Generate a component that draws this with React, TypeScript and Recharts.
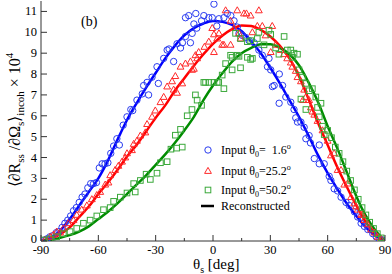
import * as React from "react";
import {
  ComposedChart,
  Line,
  Scatter,
  XAxis,
  YAxis,
  Legend,
} from "recharts";

// reconstructed curves, sampled every 5 deg
const THETA_CURVE = [
  -90, -85, -80, -75, -70, -65, -60, -55, -50, -45, -40, -35, -30, -25, -20, -15, -10, -5, 0,
  5, 10, 15, 20, 25, 30, 35, 40, 45, 50, 55, 60, 65, 70, 75, 80, 85, 90,
];
const BLUE_CURVE = [
  0, 0.15, 0.5, 1.05, 1.7, 2.35, 3.0, 3.85, 4.85, 5.8, 6.6, 7.35, 8.05, 8.75, 9.35, 9.85, 10.2, 10.42, 10.54,
  10.5, 10.35, 10.05, 9.55, 9.0, 8.3, 7.55, 6.75, 5.95, 5.05, 4.1, 3.25, 2.5, 1.8, 1.2, 0.65, 0.25, 0,
];
const RED_CURVE = [
  0, 0.12, 0.32, 0.65, 1.15, 1.65, 2.25, 2.8, 3.4, 4.05, 4.6, 5.25, 5.9, 6.5, 7.2, 7.8, 8.4, 8.95, 9.45,
  9.85, 10.15, 10.33, 10.3, 10.12, 9.8, 9.35, 8.75, 7.9, 6.8, 5.65, 4.6, 3.55, 2.6, 1.7, 0.9, 0.35, 0,
];
const GREEN_CURVE = [
  0, 0.05, 0.15, 0.28, 0.45, 0.7, 1.05, 1.4, 1.8, 2.25, 2.7, 3.15, 3.65, 4.15, 4.7, 5.3, 5.95, 6.75, 7.45,
  8.05, 8.6, 9.0, 9.25, 9.43, 9.43, 9.25, 8.95, 8.42, 7.6, 6.65, 5.5, 4.45, 3.3, 2.15, 1.2, 0.5, 0,
];

// input data points [theta, value]
const BLUE_POINTS = [
  [-88, 0.05], [-87, 0.1], [-85.4, 0.2], [-84, 0.25], [-82, 0.4], [-80.5, 0.45], [-79, 0.65], [-77.5, 0.85],
  [-76, 1.0], [-74.5, 1.2], [-73, 1.45], [-71.5, 1.6], [-70, 1.85], [-68.5, 2.1], [-67, 2.25], [-65.5, 2.55],
  [-64, 2.75], [-62.5, 2.75], [-61, 2.8], [-59.5, 3.5], [-58, 3.7], [-56.5, 3.7], [-55, 3.75], [-53.5, 4.2],
  [-52, 4.55], [-50.3, 4.9], [-49, 4.6], [-47, 5.55], [-45, 5.95], [-43, 6.3], [-42, 6.25], [-39.8, 6.75],
  [-37, 7.05], [-36.3, 7.45], [-34.5, 7.6], [-33.7, 7.0], [-31.9, 7.85], [-29.3, 8.35], [-28.6, 7.55],
  [-25.8, 8.75], [-24, 9.15], [-23, 9.2], [-20.6, 8.6], [-18.8, 9.45], [-17, 9.25], [-16, 9.5], [-14.4, 9.8],
  [-14.4, 10.7], [-12.7, 10.8], [-11.8, 9.5], [-10.9, 9.95], [-10, 10.4], [-9, 10.9], [-8.5, 10.2], [-6, 10.55],
  [-4.8, 10.8], [-2.2, 10.7], [-0.4, 10.7], [0.5, 11.35], [2, 10.3], [3.1, 10.65], [5.7, 10.7], [7.5, 10.9],
  [9.3, 10.8], [11, 10.55], [12.7, 10.25], [13.6, 9.95], [15.4, 9.85], [17.1, 9.75], [18.9, 9.6], [21.5, 9.5],
  [24, 9.15], [25.8, 8.9], [28.5, 8.35], [29.3, 8.75], [30.2, 8.2], [31.1, 7.4], [32, 7.45], [34.6, 6.6],
  [34.7, 8.0], [36.4, 7.45], [38.1, 6.9], [40.7, 6.65], [42.4, 6.3], [43.3, 5.9], [44.2, 5.7], [46, 5.7],
  [47.7, 5.45], [48.6, 4.9], [50.3, 5.05], [51, 4.7], [53, 3.95], [55.6, 4.6], [55.6, 3.7], [58.2, 3.7],
  [60.8, 3.1], [61.7, 2.9], [63.4, 2.5], [65.2, 2.4], [67, 2.1], [69.6, 1.85], [71.3, 1.7], [74, 1.4],
  [75.7, 1.15], [77.5, 0.85], [79.2, 0.7], [81, 0.55], [83.6, 0.35], [85.4, 0.2], [87, 0.1], [88.5, 0.05],
];
const RED_POINTS = [
  [-88, 0.05], [-85.3, 0.2], [-83.5, 0.3], [-81.8, 0.45], [-80, 0.4], [-78.3, 0.6], [-75.7, 0.85], [-73, 1.0],
  [-71.3, 1.25], [-68.7, 1.5], [-66, 1.7], [-63.4, 2.0], [-60.8, 2.2], [-59, 2.35], [-56.4, 2.7], [-54.7, 2.8],
  [-53.8, 3.15], [-51.2, 3.4], [-49.5, 3.6], [-47.6, 3.8], [-45.9, 4.0], [-45, 4.2], [-42.4, 4.35], [-41.5, 4.65],
  [-39.8, 4.8], [-38, 5.05], [-35.4, 5.2], [-34.5, 5.6], [-31.9, 5.95], [-30.2, 6.25], [-27.5, 6.65],
  [-25.8, 6.9], [-24, 7.4], [-21.4, 7.65], [-20.6, 7.25], [-18.8, 7.1], [-19.7, 7.9], [-17, 8.35], [-16.1, 7.55],
  [-14.4, 8.5], [-11.8, 8.6], [-10.9, 8.2], [-10, 8.25], [-9.2, 8.9], [-8.3, 8.75], [-7.5, 9.05], [-4.5, 9.3],
  [-2.2, 9.55], [-0.4, 10.2], [0.5, 9.05], [0.5, 9.9], [2.2, 9.7], [3.1, 9.95], [4.8, 9.4], [5.7, 9.4],
  [6.6, 11.05], [9.2, 10.55], [9.2, 9.4], [11, 10.2], [12.7, 11.05], [13.6, 9.95], [14.4, 9.7], [16.2, 10.9],
  [17.5, 10.9], [19.7, 10.8], [20.6, 10.0], [23.2, 10.3], [24, 11.05], [25.8, 10.3], [27.5, 9.85], [30.2, 9.05],
  [31, 10.3], [32.8, 9.4], [35.4, 9.15], [37.1, 8.95], [38.8, 8.75], [40.7, 8.55], [41.5, 8.35], [43.3, 8.15],
  [44.2, 7.85], [46, 7.65], [47, 6.75], [47.7, 7.25], [48.6, 6.9], [50.3, 6.75], [51.2, 6.4], [52, 6.2],
  [53, 6.05], [54.7, 5.75], [57.3, 5.3], [60, 4.8], [61.7, 4.1], [63.4, 4.2], [65.2, 3.4], [67, 3.4],
  [68.7, 2.7], [70.4, 2.75], [72.2, 2.1], [73.9, 1.8], [74.8, 1.65], [75.7, 1.5], [77.5, 1.25], [78.3, 1.25],
  [79.2, 1.0], [81, 0.8], [82.7, 0.55], [84.5, 0.4], [86.2, 0.2], [87.9, 0.1],
];
const GREEN_POINTS = [
  [-88.8, 0.05], [-85.3, 0.1], [-81.8, 0.2], [-78.3, 0.35], [-74.8, 0.45], [-71.3, 0.6], [-67.8, 0.85],
  [-64.3, 1.0], [-60.8, 1.2], [-57.3, 1.5], [-53.8, 1.6], [-52, 1.9], [-48.5, 2.1], [-45, 2.3], [-41.5, 2.75],
  [-40.7, 2.35], [-38, 2.9], [-35, 3.2], [-32.8, 2.95], [-29.3, 3.25], [-27.5, 3.75], [-24, 3.8], [-22, 4.4],
  [-19.7, 5.07], [-19, 4.45], [-17, 5.35], [-16.1, 4.5], [-13.5, 6.0], [-11, 6.3], [-9.2, 7.0], [-8.3, 6.75],
  [-6, 6.5], [-4.8, 7.6], [-3.9, 7.6], [-2.2, 7.6], [0.5, 7.6], [2.2, 7.6], [3, 7.6], [4.8, 7.95], [5.7, 7.3],
  [6.6, 8.5], [9.2, 8.9], [10, 8.2], [10, 8.8], [11.8, 9.95], [12.7, 8.9], [13.6, 8.85], [14.4, 8.3],
  [14.4, 9.7], [18, 9.55], [18, 8.8], [19.7, 9.6], [19.7, 8.7], [20.6, 8.75], [23.2, 9.7], [24, 10.0],
  [26.7, 9.4], [29.3, 10.1], [30.2, 9.9], [32.8, 9.25], [34.5, 8.95], [37.2, 9.8], [38.9, 9.15], [40.7, 9.15],
  [41.6, 8.8], [42.4, 9.0], [44.2, 8.95], [45, 8.2], [46, 6.8], [46.8, 7.85], [48.6, 7.55], [48.6, 6.3],
  [50.3, 7.2], [52, 7.3], [53.8, 6.9], [54.7, 6.4], [55.6, 5.95], [56.5, 6.6], [57.3, 5.5], [58.2, 5.1],
  [60, 5.3], [62, 4.95], [64, 4.5], [66, 4.2], [68, 3.8], [70, 3.35], [72, 2.9], [74, 2.45], [76, 2.0],
  [78, 1.6], [80, 1.25], [82, 0.9], [84, 0.6], [86, 0.35], [88, 0.15],
];

const X_TICKS = [-90, -75, -60, -45, -30, -15, 0, 15, 30, 45, 60, 75, 90];
const Y_TICKS = [0, 1, 2, 3, 4, 5, 6, 7, 8, 9, 10, 11];
const LEGEND_LABELS = ["1.6", "25.2", "50.2"];

const FONT = '"Liberation Serif", "Times New Roman", serif';
const AXIS_COLOR = "#333";
const BLUE = "#0000ff";
const RED = "#ff0000";
const GREEN = "#008c00";
const BLUE_MARK = "#2a3cf0";
const RED_MARK = "#ff2a2a";
const GREEN_MARK = "#3aa83a";

const curve = (vals: number[]) => THETA_CURVE.map((t, i) => ({ t, v: vals[i] }));
const points = (pts: number[][]) => pts.map(([t, v]) => ({ t, v }));

const Circle = (props: any) => (
  <circle cx={props.cx} cy={props.cy} r={3.2} fill="none" stroke={BLUE_MARK} strokeWidth={1} />
);
const Triangle = (props: any) => {
  const { cx, cy } = props;
  return (
    <polygon
      points={`${cx},${cy - 3.6} ${cx - 3.4},${cy + 2.4} ${cx + 3.4},${cy + 2.4}`}
      fill="none"
      stroke={RED_MARK}
      strokeWidth={1}
    />
  );
};
const Square = (props: any) => (
  <rect x={props.cx - 2.8} y={props.cy - 2.8} width={5.6} height={5.6} fill="none" stroke={GREEN_MARK} strokeWidth={1} />
);

const BottomTick = ({ x, y, payload }: any) => {
  const major = payload.value % 30 === 0;
  return (
    <g>
      <line x1={x} x2={x} y1={y} y2={y - (major ? 6 : 3)} stroke={AXIS_COLOR} />
      {major && (
        <text x={x} y={y + 12.5} textAnchor="middle" fontSize={12.5} fontFamily={FONT} fill="#000">
          {payload.value}
        </text>
      )}
    </g>
  );
};
const TopTick = ({ x, y, payload }: any) => {
  const major = payload.value % 30 === 0;
  return <line x1={x} x2={x} y1={y} y2={y + (major ? 6 : 4)} stroke={AXIS_COLOR} />;
};
const LeftTick = ({ x, y, payload }: any) => (
  <g>
    <line x1={x} x2={x + 6} y1={y} y2={y} stroke={AXIS_COLOR} />
    <text x={x - 4} y={y + (payload.value === 0 ? 2 : 4)} textAnchor="end" fontSize={12.5} fontFamily={FONT} fill="#000">
      {payload.value}
    </text>
  </g>
);
const RightTick = ({ x, y }: any) => <line x1={x} x2={x - 6} y1={y} y2={y} stroke={AXIS_COLOR} />;

const YLabel = () => (
  <text
    x={20}
    y={120}
    transform="rotate(-90, 20, 120)"
    textAnchor="middle"
    fontSize={16}
    fontFamily={FONT}
    fill="#000"
  >
    ⟨∂R<tspan fontSize={11} dy={4}>ss</tspan>
    <tspan dy={-4}> /∂Ω</tspan>
    <tspan fontSize={11} dy={4}>s</tspan>
    <tspan dy={-4}>⟩</tspan>
    <tspan fontSize={11} dy={4}>incoh</tspan>
    <tspan dy={-4}> × 10</tspan>
    <tspan fontSize={11} dy={-7}>4</tspan>
  </text>
);

const LegendBox = () => {
  const marks = [
    <circle key="c" cx={8} cy={7} r={3.2} fill="none" stroke={BLUE_MARK} />,
    <polygon key="t" points="8,3.4 4.6,9.4 11.4,9.4" fill="none" stroke={RED_MARK} />,
    <rect key="s" x={5.2} y={4.2} width={5.6} height={5.6} fill="none" stroke={GREEN_MARK} />,
  ];
  const rowTop = [1, 22, 41];
  return (
    <div style={{ position: "relative", width: 110, height: 75, fontFamily: FONT, fontSize: 12, color: "#000" }}>
      {LEGEND_LABELS.map((lab, i) => (
        <div key={lab} style={{ position: "absolute", left: 0, top: rowTop[i], whiteSpace: "pre", lineHeight: "14px" }}>
          <svg width={16} height={14} style={{ position: "absolute", left: 4, top: 0 }}>
            {marks[i]}
          </svg>
          <span style={{ position: "absolute", left: 25, top: 0 }}>
            Input θ<sub style={{ fontSize: 8, verticalAlign: "-3px", lineHeight: "8px" }}>0</sub>={lab.length < 4 ? "  " : ""}
            {lab}
            <sup style={{ fontSize: 8, verticalAlign: "5px", lineHeight: "8px" }}>o</sup>
          </span>
        </div>
      ))}
      <div style={{ position: "absolute", left: 0, top: 57, whiteSpace: "pre", lineHeight: "14px" }}>
        <svg width={20} height={14} style={{ position: "absolute", left: 0, top: 0 }}>
          <line x1={5} x2={18} y1={7} y2={7} stroke="#000" strokeWidth={2.5} />
        </svg>
        <span style={{ position: "absolute", left: 25, top: 0 }}>Reconstructed</span>
      </div>
    </div>
  );
};

export default function App() {
  return (
    <div style={{ position: "absolute", left: 0, top: 0, width: 392, height: 274, background: "#fff" }}>
      <ComposedChart width={392} height={274} margin={{ top: 1, right: 7, bottom: 0, left: 0 }}>
        <XAxis
          xAxisId={0}
          type="number"
          dataKey="t"
          domain={[-90, 90]}
          ticks={X_TICKS}
          interval={0}
          height={33}
          tickSize={0}
          tickMargin={0}
          tickLine={false}
          tick={(p: any) => <BottomTick {...p} />}
          axisLine={{ stroke: AXIS_COLOR }}
          allowDataOverflow
        />
        <XAxis
          xAxisId="top"
          orientation="top"
          type="number"
          dataKey="t"
          domain={[-90, 90]}
          ticks={X_TICKS}
          interval={0}
          height={0}
          tickSize={0}
          tickMargin={0}
          tickLine={false}
          tick={(p: any) => <TopTick {...p} />}
          axisLine={{ stroke: AXIS_COLOR }}
          allowDataOverflow
        />
        <YAxis
          yAxisId={0}
          type="number"
          domain={[0, 11.5]}
          ticks={Y_TICKS}
          interval={0}
          width={41}
          tickSize={0}
          tickMargin={0}
          tickLine={false}
          tick={(p: any) => <LeftTick {...p} />}
          axisLine={{ stroke: AXIS_COLOR }}
          allowDataOverflow
          label={{ content: () => <YLabel /> }}
        />
        <YAxis
          yAxisId="right"
          orientation="right"
          type="number"
          domain={[0, 11.5]}
          ticks={Y_TICKS}
          interval={0}
          width={0}
          tickSize={0}
          tickMargin={0}
          tickLine={false}
          tick={(p: any) => <RightTick {...p} />}
          axisLine={{ stroke: AXIS_COLOR }}
          allowDataOverflow
        />
        <Legend
          layout="vertical"
          align="center"
          verticalAlign="middle"
          content={() => <LegendBox />}
          wrapperStyle={{ position: "absolute", left: 196, top: 142, width: 120, height: 75 }}
        />
        <Scatter data={points(BLUE_POINTS)} dataKey="v" shape={Circle} isAnimationActive={false} />
        <Scatter data={points(RED_POINTS)} dataKey="v" shape={Triangle} isAnimationActive={false} />
        <Scatter data={points(GREEN_POINTS)} dataKey="v" shape={Square} isAnimationActive={false} />
        <Line data={curve(BLUE_CURVE)} dataKey="v" type="monotone" stroke={BLUE} strokeWidth={2.5} dot={false} isAnimationActive={false} />
        <Line data={curve(RED_CURVE)} dataKey="v" type="monotone" stroke={RED} strokeWidth={2.5} dot={false} isAnimationActive={false} />
        <Line data={curve(GREEN_CURVE)} dataKey="v" type="monotone" stroke={GREEN} strokeWidth={2.5} dot={false} isAnimationActive={false} />
      </ComposedChart>
      <div
        style={{
          position: "absolute",
          left: 81,
          top: 14,
          fontFamily: FONT,
          fontSize: 14,
          lineHeight: "16px",
        }}
      >
        (b)
      </div>
      <div
        style={{
          position: "absolute",
          left: 193,
          top: 257,
          fontFamily: FONT,
          fontSize: 15,
          lineHeight: "14px",
          whiteSpace: "pre",
        }}
      >
        θ<sub style={{ fontSize: 10, verticalAlign: "-4px", lineHeight: "8px" }}>s</sub> [deg]
      </div>
    </div>
  );
}
